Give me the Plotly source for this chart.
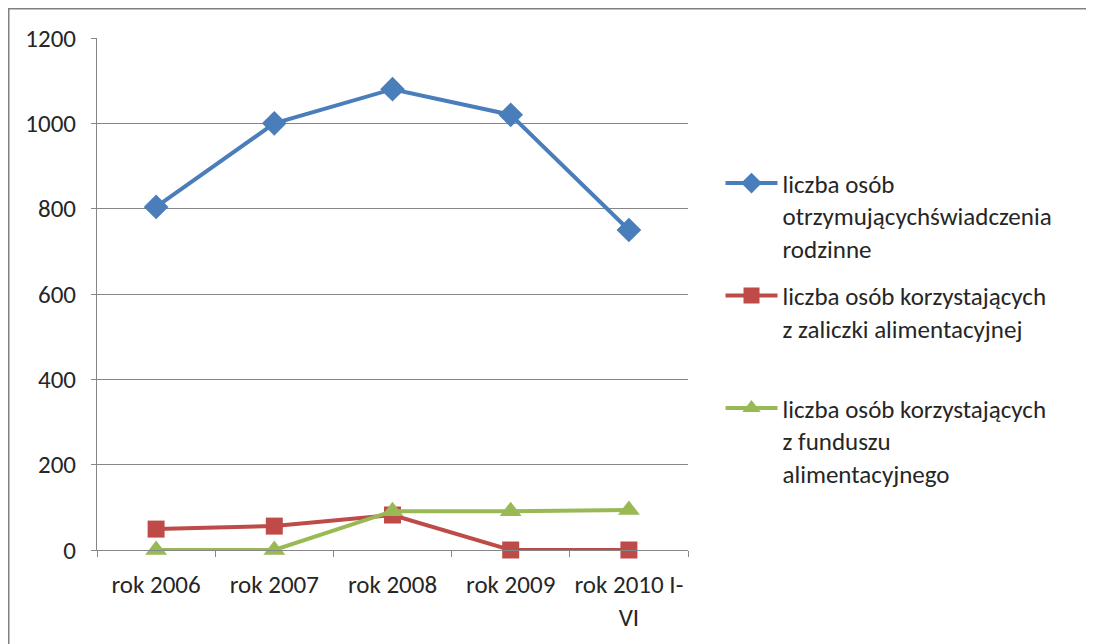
import plotly.graph_objects as go

categories = ["rok 2006", "rok 2007", "rok 2008", "rok 2009", "rok 2010 I-<br>VI"]
swiadczenia = [804, 1000, 1080, 1020, 750]
zaliczka = [49, 56, 82, 0, 0]
fundusz = [0, 0, 91, 91, 94]
names = [
    "liczba osób<br>otrzymującychświadczenia<br>rodzinne",
    "liczba osób korzystających<br>z zaliczki alimentacyjnej<br> ",
    "liczba osób korzystających<br>z funduszu<br>alimentacyjnego",
]
y_ticks = [0, 200, 400, 600, 800, 1000, 1200]

FONT = "Carlito, Calibri, Lato, sans-serif"
FS = 25
fig = go.Figure()
series = [
    (swiadczenia, names[0], "#4A7EBB", "diamond", 19),
    (zaliczka, names[1], "#BE4B48", "square", 17),
    (fundusz, names[2], "#98B954", "triangle-up", 19),
]
for i, (vals, nm, col, sym, sz) in enumerate(series):
    fig.add_trace(go.Scatter(
        x=categories, y=vals, name=nm, mode="lines+markers",
        legendgroup=f"g{i}",
        line=dict(color=col, width=4),
        marker=dict(symbol=sym, size=sz, color=col),
        cliponaxis=False,
    ))

# page has an 8px body margin, so the figure is offset by 8px
W, H = 1086, 636
L, T = 89, 30
R = W - 680
B = H - 542
fig.update_layout(
    width=W, height=H,
    margin=dict(l=L, r=R, t=T, b=B),
    paper_bgcolor="white", plot_bgcolor="white",
    font=dict(family=FONT, size=FS, color="#262626"),
    showlegend=True,
    legend=dict(x=1.055, xanchor="left", y=0.761, yanchor="top", valign="top",
                font=dict(size=FS, color="#262626"), tracegroupgap=12,
                bgcolor="rgba(0,0,0,0)", itemwidth=52),
    xaxis=dict(type="category", range=[-0.5, 4.5], showgrid=False,
               showline=True, linecolor="#868686", linewidth=1,
               ticks="outside", tickson="boundaries", ticklen=6, tickcolor="#868686",
               ticklabelstandoff=12, tickfont=dict(size=FS)),
    yaxis=dict(range=[0, 1200], tickvals=y_ticks, showgrid=True, gridcolor="#868686",
               gridwidth=1, showline=True, linecolor="#868686", zeroline=False,
               ticks="outside", ticklen=5, tickcolor="#868686",
               ticklabelstandoff=10, tickfont=dict(size=FS)),
    shapes=[
        dict(type="line", xref="paper", yref="paper", x0=-L / 591, x1=1.8,
             y0=1 + T / 512, y1=1 + T / 512, line=dict(color="#808080", width=3)),
        dict(type="line", xref="paper", yref="paper", x0=-L / 591, x1=-L / 591,
             y0=1 + T / 512, y1=-0.3, line=dict(color="#808080", width=3)),
    ],
)
fig.write_html("out.html")
